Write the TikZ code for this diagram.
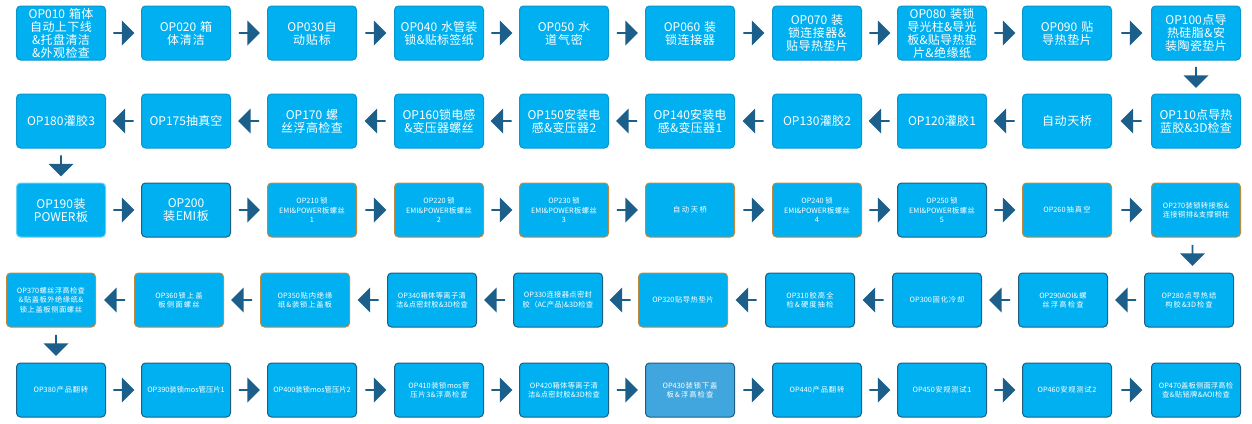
\documentclass[tikz,border=0pt]{standalone}
\usepackage{fontspec}
\setmainfont{Noto Sans CJK SC}
\XeTeXlinebreaklocale "zh"
\XeTeXlinebreakskip=0pt plus 1pt
\usetikzlibrary{shapes.arrows,calc}
\definecolor{fillb}{HTML}{00B0F0}
\definecolor{orb}{HTML}{C08A3E}
\definecolor{dkb}{HTML}{1F5E80}
\definecolor{arr}{HTML}{1B5F8A}
\definecolor{lt}{HTML}{41A6DE}
\begin{document}
\begin{tikzpicture}[x=1pt,y=-1pt,
 box/.style={rectangle,rounded corners=4pt,fill=fillb,draw=dkb,line width=1pt,minimum width=89pt,minimum height=54pt,text=white,align=center,inner sep=1pt},
 big/.style={box,font=\fontsize{12}{13}\selectfont,text width=80pt,draw=fillb!70!dkb},
 sm/.style={box,font=\fontsize{7.3}{9.5}\selectfont,text width=78pt},
 og/.style={draw=orb},
 ar/.style={single arrow,fill=arr,draw=none,minimum height=21pt,single arrow head extend=2.5pt,minimum width=25pt,inner sep=0pt},
]
\useasboundingbox (0,0) rectangle (1252,423);
% row 1
\def\Y{33}
\node[big] (a1) at (61,\Y) {OP010 箱体自动上下线\&托盘清洁\&外观检查};
\node[big] (a2) at (186,\Y) {OP020 箱体清洁};
\node[big] (a3) at (312,\Y) {OP030自动贴标};
\node[big] (a4) at (439,\Y) {OP040 水管装锁\&贴标签纸};
\node[big] (a5) at (564,\Y) {OP050 水道气密};
\node[big] (a6) at (690,\Y) {OP060 装锁连接器};
\node[big] (a7) at (817,\Y) {OP070 装锁连接器\&贴导热垫片};
\node[big] (a8) at (942,\Y) {OP080 装锁导光柱\&导光板\&贴导热垫片\&绝缘纸};
\node[big] (a9) at (1067,\Y) {OP090 贴导热垫片};
\node[big] (a10) at (1196,\Y) {OP100点导热硅脂\&安装陶瓷垫片};
% row 2
\def\Y{121}
\node[big] (b1) at (61,\Y) {OP180灌胶3};
\node[big] (b2) at (186,\Y) {OP175抽真空};
\node[big] (b3) at (312,\Y) {OP170 螺丝浮高检查};
\node[big] (b4) at (439,\Y) {OP160锁电感\&变压器螺丝};
\node[big] (b5) at (564,\Y) {OP150安装电感\&变压器2};
\node[big] (b6) at (690,\Y) {OP140安装电感\&变压器1};
\node[big] (b7) at (817,\Y) {OP130灌胶2};
\node[big] (b8) at (942,\Y) {OP120灌胶1};
\node[big] (b9) at (1067,\Y) {自动天桥};
\node[big] (b10) at (1196,\Y) {OP110点导热蓝胶\&3D检查};
% row 3
\def\Y{210}
\node[big,draw=fillb!60!white] (c1) at (61,\Y) {OP190装\\POWER板};
\node[big,draw=dkb] (c2) at (186,\Y) {OP200装EMI板};
\node[sm,og] (c3) at (312,\Y) {OP210锁\\EMI\&POWER板螺丝\\1};
\node[sm,og] (c4) at (439,\Y) {OP220锁\\EMI\&POWER板螺丝\\2};
\node[sm,og] (c5) at (564,\Y) {OP230锁\\EMI\&POWER板螺丝\\3};
\node[sm,og] (c6) at (690,\Y) {自动天桥};
\node[sm,og] (c7) at (817,\Y) {OP240锁\\EMI\&POWER板螺丝\\4};
\node[sm] (c8) at (942,\Y) {OP250锁\\EMI\&POWER板螺丝\\5};
\node[sm,og] (c9) at (1067,\Y) {OP260抽真空};
\node[sm,og] (c10) at (1196,\Y) {OP270装锁转接板\&连接铜排\&支撑铜柱};
% row 4
\def\Y{300}
\node[sm,og] (d1) at (51,\Y) {OP370螺丝浮高检查\&贴盖板外绝缘纸\&锁上盖板侧面螺丝};
\node[sm,og] (d2) at (179,\Y) {OP360锁上盖板侧面螺丝};
\node[sm,og] (d3) at (305,\Y) {OP350贴内绝缘纸\&装锁上盖板};
\node[sm] (d4) at (432,\Y) {OP340箱体等离子清洁\&点密封胶\&3D检查};
\node[sm] (d5) at (558,\Y) {OP330连接器点密封胶（AC产品)\&3D检查};
\node[sm,og] (d6) at (683,\Y) {OP320贴导热垫片};
\node[sm] (d7) at (810,\Y) {OP310胶高全检\&硬度抽检};
\node[sm] (d8) at (937,\Y) {OP300固化冷却};
\node[sm] (d9) at (1063,\Y) {OP290AOI\&螺丝浮高检查};
\node[sm] (d10) at (1189,\Y) {OP280点导热结构胶\&3D检查};
% row 5
\def\Y{390}
\node[sm] (e1) at (61,\Y) {OP380产品翻转};
\node[sm] (e2) at (186,\Y) {OP390装锁mos管压片1};
\node[sm] (e3) at (312,\Y) {OP400装锁mos管压片2};
\node[sm] (e4) at (439,\Y) {OP410装锁mos管压片3\&浮高检查};
\node[sm] (e5) at (564,\Y) {OP420箱体等离子清洁\&点密封胶\&3D检查};
\node[sm,fill=lt] (e6) at (690,\Y) {OP430装锁下盖板\&浮高检查};
\node[sm] (e7) at (817,\Y) {OP440产品翻转};
\node[sm] (e8) at (942,\Y) {OP450安规测试1};
\node[sm] (e9) at (1067,\Y) {OP460安规测试2};
\node[sm] (e10) at (1196,\Y) {OP470盖板侧面浮高检查\&贴铭牌\&AOI检查};
% arrows
\foreach \r in {a,c,e}{
 \foreach \i [evaluate=\i as \j using int(\i+1)] in {1,...,9}{
  \node[ar] at ($(\r\i.east)!0.5!(\r\j.west)$) {};
 }}
\foreach \r in {b,d}{
 \foreach \i [evaluate=\i as \j using int(\i+1)] in {1,...,9}{
  \node[ar,shape border rotate=180] at ($(\r\i.east)!0.5!(\r\j.west)$) {};
 }}
\node[ar,shape border rotate=270] at ($(a10.south)!0.5!(b10.north)$) {};
\node[ar,shape border rotate=270] at ($(b1.south)!0.5!(c1.north)$) {};
\node[ar,shape border rotate=270] at ($(c10.south)!0.5!(d10.north)$) {};
\node[ar,shape border rotate=270] at ($(d1.south)!0.5!(e1.north)$) {};
\end{tikzpicture}
\end{document}
